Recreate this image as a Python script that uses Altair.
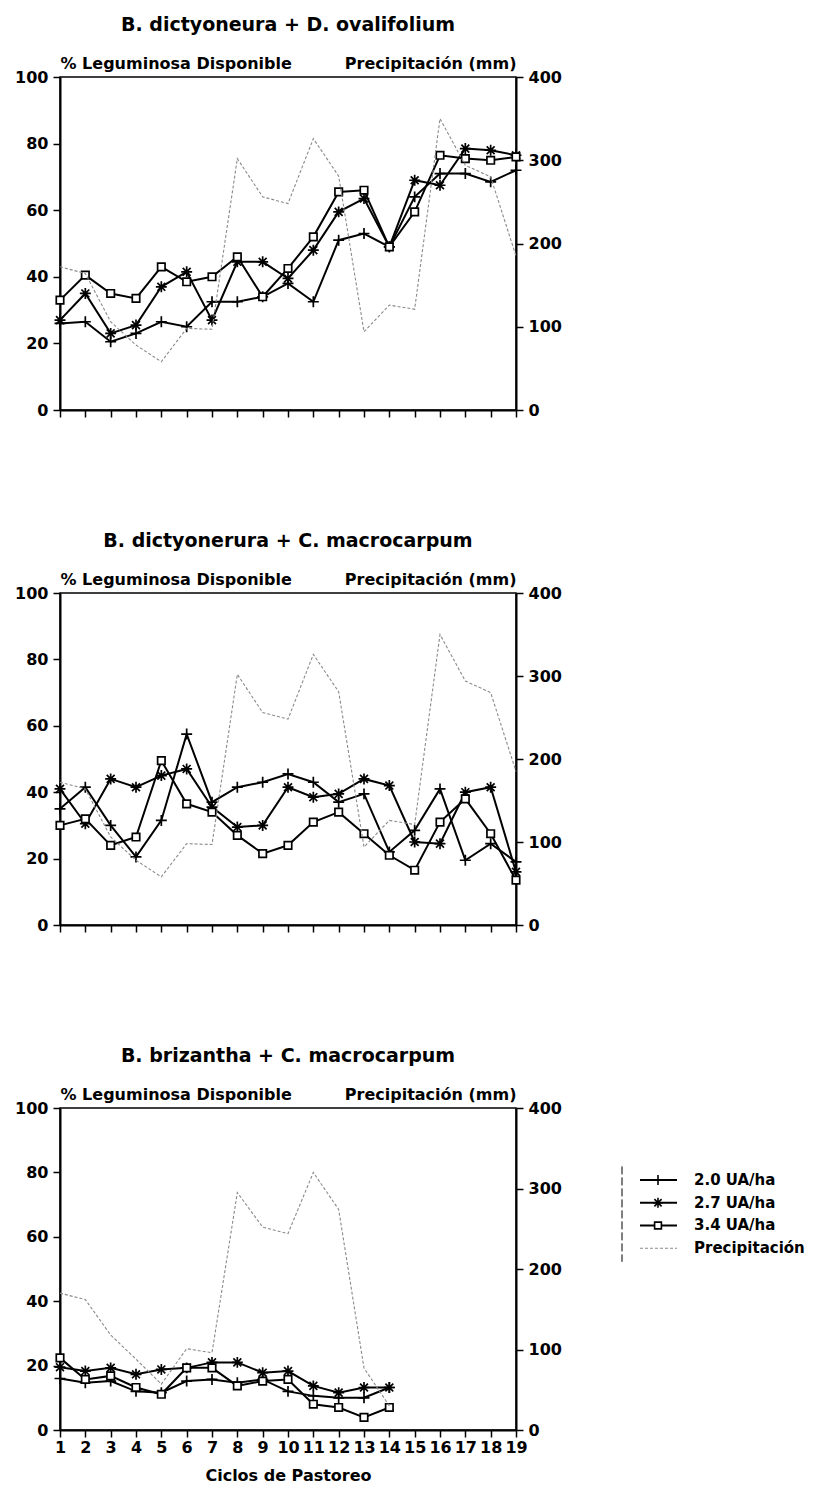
import altair as alt
import pandas as pd

# ---------------- data ----------------
cycles = list(range(1, 20))
series_names = ["2.0 UA/ha", "2.7 UA/ha", "3.4 UA/ha"]
precip_name = "Precipitación"

titles = [
    "B. dictyoneura + D. ovalifolium",
    "B. dictyonerura + C. macrocarpum",
    "B. brizantha + C. macrocarpum",
]

# Panel 1: B. dictyoneura + D. ovalifolium (% leguminosa disponible)
p1_20 = [26, 26.5, 20.5, 23, 26.5, 25, 32.5, 32.5, 34, 38, 32.5, 51, 53, 49, 64, 71, 71, 68.5, 72]
p1_27 = [27, 35, 23, 25.5, 37, 41.5, 27, 44.5, 44.5, 39.5, 48, 59.5, 63.5, 49, 69, 67.5, 78.5, 78, 76.5]
p1_34 = [33, 40.5, 35, 33.5, 43, 38.5, 40, 46, 34, 42.5, 52, 65.5, 66, 49, 59.5, 76.5, 75.5, 75, 76]

# Panel 2: B. dictyonerura + C. macrocarpum
p2_20 = [35, 41.5, 30, 20.5, 31.5, 57.5, 37, 41.5, 43, 45.5, 43, 37, 39.5, 22, 28.5, 41, 19.5, 24.5, 19]
p2_27 = [41, 30.5, 44, 41.5, 45, 47, 35.5, 29.5, 30, 41.5, 38.5, 39.5, 44, 42, 25, 24.5, 40, 41.5, 16]
p2_34 = [30, 32, 24, 26.5, 49.5, 36.5, 34, 27, 21.5, 24, 31, 34, 27.5, 21, 16.5, 31, 38, 27.5, 13.5]

# Panel 3: B. brizantha + C. macrocarpum (14 cycles)
p3_20 = [16, 14.7, 15.2, 12, 11.6, 15.2, 15.7, 14.7, 15.7, 12, 10.6, 10, 10, 13.2]
p3_27 = [19.5, 18.3, 19.3, 17.3, 18.8, 19.3, 21, 21, 17.8, 18.3, 13.7, 11.6, 13.2, 13.2]
p3_34 = [22.4, 15.7, 16.8, 13.2, 11.1, 19.3, 19.3, 13.7, 15.2, 15.7, 8, 7, 3.9, 7]

# Precipitation (mm)
precip_a = [172, 164, 106, 78, 58, 98, 97, 302, 256, 248, 326, 281, 94, 126, 121, 350, 294, 280, 185]
precip_b = [170, 162, 118, 88, 57, 101, 96, 295, 252, 244, 320, 274, 77, 30]

left_ticks = [0, 20, 40, 60, 80, 100]
right_ticks = [0, 100, 200, 300, 400]

# ---------------- style ----------------
FONT = "DejaVu Sans"
PLUS = "M-1,0L1,0M0,-1L0,1"
STAR = "M-1,0L1,0M0,-1L0,1M-0.72,-0.72L0.72,0.72M-0.72,0.72L0.72,-0.72"
SQUARE = "M-0.68,-0.68L0.68,-0.68L0.68,0.68L-0.68,0.68Z"
shape_scale = alt.Scale(domain=series_names, range=[PLUS, STAR, SQUARE])
PLOT_W = 456


def long_df(s20, s27, s34):
    rows = []
    for name, vals in zip(series_names, [s20, s27, s34]):
        for c, v in zip(cycles, vals):
            rows.append({"ciclo": c, "serie": name, "valor": v})
    return pd.DataFrame(rows)


def panel(title, s20, s27, s34, precip, height, bottom):
    df = long_df(s20, s27, s34)
    pdf = pd.DataFrame({"ciclo": cycles[: len(precip)], "mm": precip})

    if bottom:
        xaxis = alt.Axis(values=cycles, title="Ciclos de Pastoreo", labelOverlap=False,
                         labelFlush=False, titlePadding=12, labelPadding=2)
    else:
        xaxis = alt.Axis(values=cycles, labels=False, title=None)
    x = alt.X("ciclo:Q", scale=alt.Scale(domain=[1, 19], nice=False), axis=xaxis)

    lscale = alt.Scale(domain=[0, 100], nice=False)
    yl = alt.Y("valor:Q", scale=lscale,
               axis=alt.Axis(values=left_ticks, title="% Leguminosa Disponible",
                             titleAngle=0, titleAlign="left", titleBaseline="alphabetic",
                             titleX=0, titleY=-9, orient="left"))
    yl_noaxis = alt.Y("valor:Q", scale=lscale, axis=None)
    yr = alt.Y("mm:Q", scale=alt.Scale(domain=[0, 400], nice=False),
               axis=alt.Axis(values=right_ticks, title="Precipitación (mm)",
                             titleAngle=0, titleAlign="right", titleBaseline="alphabetic",
                             titleX=0, titleY=-9, orient="right"))

    rain = alt.Chart(pdf).mark_line(color="#8a8a8a", strokeWidth=1.1,
                                    strokeDash=[3, 2]).encode(x=x, y=yr)
    base = alt.Chart(df)
    lines = base.mark_line(color="black", strokeWidth=2).encode(
        x=x, y=yl, detail="serie:N")
    pts = base.mark_point(filled=True, fill="white", stroke="black", strokeWidth=1.7,
                          opacity=1, size=120).encode(
        x=x, y=yl_noaxis,
        shape=alt.Shape("serie:N", scale=shape_scale, legend=None))
    return alt.layer(lines, pts, rain).resolve_scale(y="independent").properties(
        width=PLOT_W, height=height,
        title=alt.TitleParams(title, anchor="middle", offset=20))


c1 = panel(titles[0], p1_20, p1_27, p1_34, precip_a, 333, False)
c2 = panel(titles[1], p2_20, p2_27, p2_34, precip_a, 332, False)
c3 = panel(titles[2], p3_20, p3_27, p3_34, precip_b, 322, True)

# ---------------- manual legend ----------------
leg_items = series_names + [precip_name]
leg_df = pd.DataFrame({"item": leg_items, "row": list(range(len(leg_items)))})
leg_y = alt.Scale(domain=[-3.17, 11.0], reverse=True, nice=False, zero=False)
lb = alt.Chart(leg_df)
leg_bar = lb.transform_aggregate(
    lo="min(row)", hi="max(row)"
).transform_calculate(
    a="datum.lo - 0.6", b="datum.hi + 0.6"
).mark_rule(color="black", strokeWidth=1, strokeDash=[8, 3]).encode(
    x=alt.value(0), y=alt.Y("a:Q", scale=leg_y, axis=None), y2="b:Q")
leg_lines = lb.transform_filter(alt.datum.row < 3).mark_rule(
    color="black", strokeWidth=2).encode(
    x=alt.value(18), x2=alt.value(55), y=alt.Y("row:Q", scale=leg_y, axis=None))
leg_rain = lb.transform_filter(alt.datum.row == 3).mark_rule(
    color="#8a8a8a", strokeWidth=1.1, strokeDash=[3, 2]).encode(
    x=alt.value(18), x2=alt.value(55), y=alt.Y("row:Q", scale=leg_y, axis=None))
leg_pts = lb.transform_filter(alt.datum.row < 3).mark_point(
    filled=True, fill="white", stroke="black", strokeWidth=1.6, opacity=1, size=100).encode(
    x=alt.value(36), y=alt.Y("row:Q", scale=leg_y, axis=None),
    shape=alt.Shape("item:N", scale=shape_scale, legend=None))
leg_text = lb.mark_text(align="left", baseline="middle", font=FONT, fontSize=15,
                        fontWeight="bold", color="black").encode(
    x=alt.value(72), y=alt.Y("row:Q", scale=leg_y, axis=None), text="item:N")
legend = alt.layer(leg_bar, leg_lines, leg_rain, leg_pts, leg_text).properties(
    width=195, height=322, view=alt.ViewBackground(stroke="transparent"))

row3 = alt.hconcat(c3, legend, spacing=57)

chart = alt.vconcat(c1, c2, row3, spacing=112).properties(
    padding={"left": 5, "top": 7, "right": 0, "bottom": 0}
).configure_view(
    stroke="black", strokeWidth=1.5
).configure_axis(
    labelFont=FONT, labelFontSize=16, labelFontWeight="bold", labelColor="black",
    titleFont=FONT, titleFontSize=16, titleFontWeight="bold", titleColor="black",
    domainColor="black", domainWidth=2, tickColor="black", tickSize=7, tickWidth=1.5,
    labelPadding=5, grid=False,
).configure_title(
    font=FONT, fontSize=19, fontWeight="bold", color="black",
)

chart.save("out.html", embed_options={"renderer": "svg", "actions": False})
